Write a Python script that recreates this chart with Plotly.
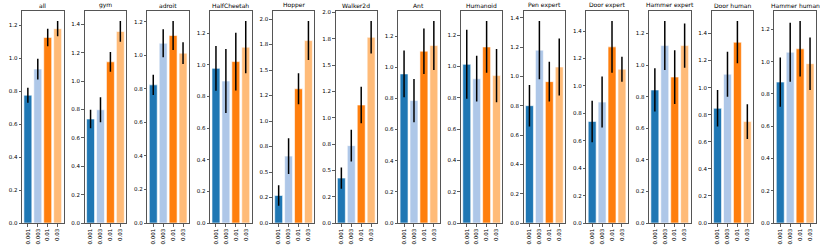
import plotly.graph_objects as go

tasks = ["all", "gym", "adroit", "HalfCheetah", "Hopper", "Walker2d", "Ant",
         "Humanoid", "Pen expert", "Door expert", "Hammer expert", "Door human",
         "Hammer human"]
lrs = ["0.001", "0.003", "0.01", "0.03"]

means = {
    "all":           [0.776, 0.935, 1.127, 1.180],
    "gym":           [0.733, 0.798, 1.136, 1.350],
    "adroit":        [0.823, 1.071, 1.117, 1.012],
    "HalfCheetah":   [0.978, 0.898, 1.021, 1.112],
    "Hopper":        [0.270, 0.656, 1.316, 1.789],
    "Walker2d":      [0.427, 0.735, 1.121, 1.764],
    "Ant":           [0.957, 0.786, 1.103, 1.139],
    "Humanoid":      [1.013, 0.921, 1.124, 0.941],
    "Pen expert":    [0.800, 1.179, 0.964, 1.064],
    "Door expert":   [0.741, 0.882, 1.285, 1.122],
    "Hammer expert": [0.842, 1.123, 0.924, 1.123],
    "Door human":    [0.847, 1.099, 1.335, 0.749],
    "Hammer human":  [0.874, 1.059, 1.080, 0.988],
}
errors = {
    "all":           [0.046, 0.063, 0.053, 0.046],
    "gym":           [0.065, 0.088, 0.070, 0.073],
    "adroit":        [0.060, 0.083, 0.086, 0.065],
    "HalfCheetah":   [0.142, 0.203, 0.183, 0.165],
    "Hopper":        [0.101, 0.176, 0.152, 0.191],
    "Walker2d":      [0.101, 0.150, 0.174, 0.154],
    "Ant":           [0.150, 0.139, 0.146, 0.157],
    "Humanoid":      [0.220, 0.146, 0.165, 0.170],
    "Pen expert":    [0.142, 0.198, 0.136, 0.195],
    "Door expert":   [0.151, 0.186, 0.188, 0.091],
    "Hammer expert": [0.137, 0.155, 0.170, 0.140],
    "Door human":    [0.135, 0.166, 0.156, 0.128],
    "Hammer human":  [0.153, 0.183, 0.172, 0.163],
}
tick_steps = {t: 0.2 for t in tasks}
tick_steps["Hopper"] = 0.25
tick_steps["Walker2d"] = 0.25

colors = ["#1f77b4", "#aec7e8", "#ff7f0e", "#ffbb78"]

W, H = 830, 246
left0, pitch, width = 22.0, 62.7, 41.5
top_px, bot_px = 11.0, 223.0
ydom = [1 - bot_px / H, 1 - top_px / H]

fig = go.Figure()
annotations = []
FONT = "DejaVu Sans"

for i, t in enumerate(tasks):
    n = i + 1
    xa = "x" if n == 1 else f"x{n}"
    ya = "y" if n == 1 else f"y{n}"
    x0 = (left0 + i * pitch) / W
    x1 = (left0 + i * pitch + width) / W
    m = means[t]
    e = errors[t]
    fig.add_trace(go.Bar(
        x=list(range(len(lrs))), y=m, width=0.8,
        marker=dict(color=colors, line=dict(color="white", width=0.6)),
        error_y=dict(type="data", array=e, visible=True, color="black",
                     thickness=1.5, width=0),
        xaxis=xa, yaxis=ya, showlegend=False,
    ))
    ymax = max(a + b for a, b in zip(m, e)) * 1.05
    step = tick_steps[t]
    tv = []
    k = 0
    while k * step <= ymax + 1e-9:
        tv.append(round(k * step, 4))
        k += 1
    tt = [f"{v:.1f}" for v in tv]
    axis_common = dict(showline=True, mirror=True, linecolor="#555", linewidth=1,
                       showgrid=False, zeroline=False, ticks="outside",
                       ticklen=2.5, tickwidth=0.8, tickcolor="#333",
                       tickfont=dict(family=FONT, size=5.5, color="#000"))
    fig.layout[f"xaxis{n if n > 1 else ''}"] = dict(
        domain=[x0, x1], anchor=ya, range=[-0.59, 3.59],
        tickvals=list(range(len(lrs))), ticktext=lrs, tickangle=-90,
        automargin=False, **axis_common)
    fig.layout[f"yaxis{n if n > 1 else ''}"] = dict(
        domain=ydom, anchor=xa, range=[0, ymax],
        tickvals=tv, ticktext=tt, automargin=False, **axis_common)
    annotations.append(dict(
        x=(x0 + x1) / 2, y=ydom[1], xref="paper", yref="paper",
        text=t, showarrow=False, xanchor="center", yanchor="bottom", yshift=0,
        font=dict(family=FONT, size=6, color="#000")))

fig.update_layout(
    width=W, height=H, margin=dict(l=0, r=0, t=0, b=0),
    paper_bgcolor="white", plot_bgcolor="white",
    annotations=annotations, bargap=0,
)
fig.write_html("out.html",
               config={"displayModeBar": False, "staticPlot": True},
               post_script="document.body.style.margin='0';"
                           "document.body.style.padding='0';")
